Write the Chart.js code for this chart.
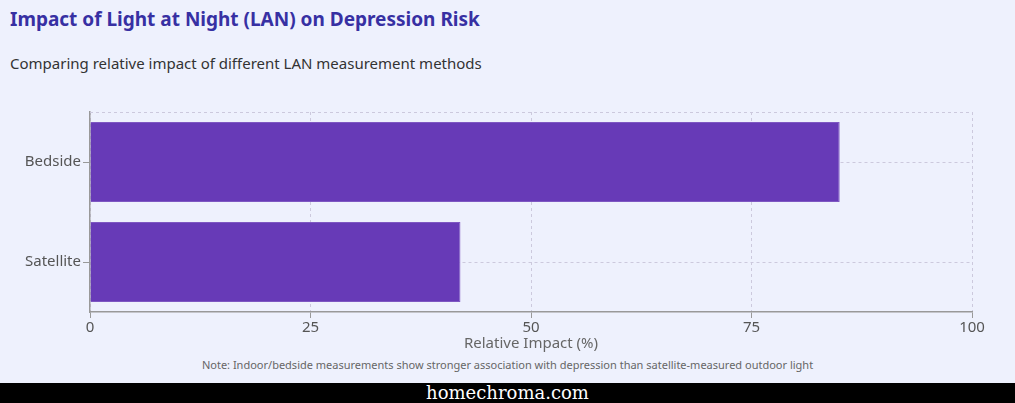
<!DOCTYPE html>
<html>
<head>
<meta charset="utf-8">
<script src="https://cdn.jsdelivr.net/npm/chart.js"></script>
<style>
    * { margin: 0; padding: 0; box-sizing: border-box; }
    body {
        width: 1015px;
        height: 403px;
        background: #eef1fd;
        font-family: "Noto Sans", "Open Sans", sans-serif;
        position: relative;
        overflow: hidden;
    }
    .title {
        position: absolute; left: 10px; top: 6px;
        font-size: 19px; font-weight: bold; color: #3730a3;
    }
    .subtitle {
        position: absolute; left: 10px; top: 53px;
        font-size: 15px; color: #333;
    }
    .chart-box {
        position: absolute; left: 0; top: 100px;
        width: 1015px; height: 253px;
    }
    .note {
        position: absolute; left: 0; width: 1015px; top: 357px;
        text-align: center; font-size: 11px; color: #666;
    }
    .footer {
        position: absolute; left: 0; top: 383px; width: 1015px; height: 20px;
        background: #000; color: #fff; text-align: center;
        font-family: "DejaVu Serif", serif; font-size: 18px; line-height: 20px;
    }
</style>
</head>
<body>
<div class="title">Impact of Light at Night (LAN) on Depression Risk</div>
<div class="subtitle">Comparing relative impact of different LAN measurement methods</div>
<div class="chart-box"><canvas id="chart"></canvas></div>
<div class="note">Note: Indoor/bedside measurements show stronger association with depression than satellite-measured outdoor light</div>
<div class="footer">homechroma.com</div>

<script>
// data
const methods = ["Bedside", "Satellite"];
const impactValues = [85, 42];
const xTicks = [0, 25, 50, 75, 100];

// dashed line along the top of the plot area
const topBorder = {
    id: 'topBorder',
    afterDraw(chart) {
        const { ctx, chartArea } = chart;
        ctx.save();
        ctx.strokeStyle = '#ccc9dd';
        ctx.lineWidth = 1;
        ctx.setLineDash([3, 3]);
        ctx.beginPath();
        ctx.moveTo(chartArea.left, chartArea.top + 0.5);
        ctx.lineTo(chartArea.right, chartArea.top + 0.5);
        ctx.stroke();
        ctx.restore();
    }
};

new Chart(document.getElementById('chart'), {
    type: 'bar',
    data: {
        labels: methods,
        datasets: [{
            label: 'Relative Impact (%)',
            data: impactValues,
            backgroundColor: '#673ab7',
            borderColor: '#7e57c2',
            borderWidth: 1,
            barPercentage: 0.8,
            categoryPercentage: 1.0
        }]
    },
    options: {
        indexAxis: 'y',
        responsive: true,
        maintainAspectRatio: false,
        animation: false,
        layout: { padding: { top: 12, right: 43, left: 0, bottom: 0 } },
        plugins: { legend: { display: false }, tooltip: { enabled: false } },
        scales: {
            x: {
                min: 0, max: 100,
                afterBuildTicks: axis => { axis.ticks = xTicks.map(v => ({ value: v })); },
                afterFit: axis => { axis.height = 41; },
                ticks: { color: '#555', font: { size: 15, family: 'Noto Sans' }, padding: 1 },
                grid: { color: '#ccc9dd', tickColor: '#999', tickLength: 6, tickBorderDash: [] },
                border: { color: '#999', width: 1.5, dash: [3, 3] },
                title: { display: true, text: 'Relative Impact (%)', color: '#666', font: { size: 15, family: 'Noto Sans' }, padding: 0 }
            },
            y: {
                afterFit: axis => { axis.width = 90; },
                ticks: { color: '#555', font: { size: 15, family: 'Noto Sans' }, padding: 2 },
                grid: { offset: false, color: '#ccc9dd', tickColor: '#999', tickLength: 7, tickBorderDash: [] },
                border: { color: '#999', width: 1.5, dash: [3, 3] }
            }
        }
    },
    plugins: [topBorder]
});
</script>
</body>
</html>
